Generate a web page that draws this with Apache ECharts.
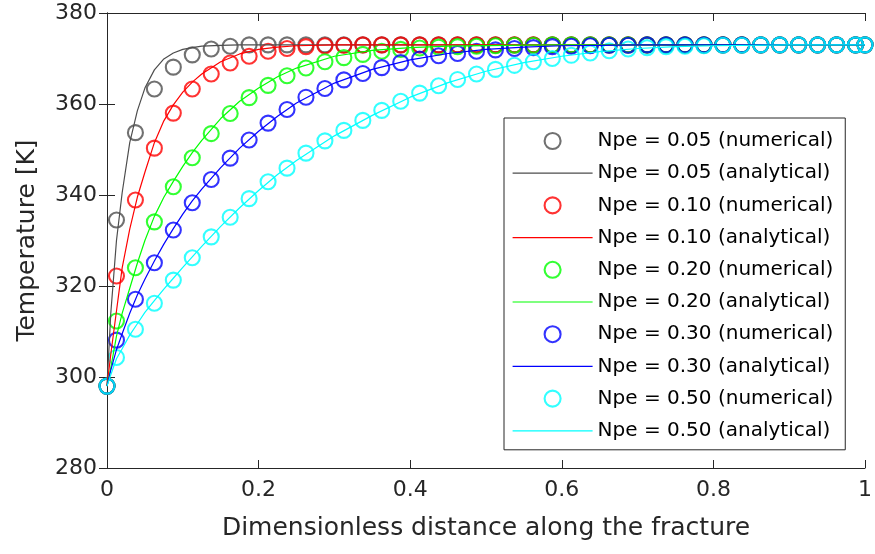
<!DOCTYPE html>
<html>
<head>
<meta charset="utf-8">
<script src="https://cdn.jsdelivr.net/npm/echarts@6/dist/echarts.min.js"></script>
<style>
  html, body { margin: 0; padding: 0; background: #fff; }
  #chart { width: 875px; height: 554px; }
</style>
</head>
<body>
<div id="chart"></div>
<script>
// Grid-block centres of the numerical solution (plus both ends)
const xNumerical = [0, 0.0125, 0.0375, 0.0625, 0.0875, 0.1125, 0.1375, 0.1625, 0.1875, 0.2125,
  0.2375, 0.2625, 0.2875, 0.3125, 0.3375, 0.3625, 0.3875, 0.4125, 0.4375, 0.4625,
  0.4875, 0.5125, 0.5375, 0.5625, 0.5875, 0.6125, 0.6375, 0.6625, 0.6875, 0.7125,
  0.7375, 0.7625, 0.7875, 0.8125, 0.8375, 0.8625, 0.8875, 0.9125, 0.9375, 0.9625,
  0.9875, 1];

// Numerical temperatures [K]
const numNpe005 = [298, 334.5, 353.7, 363.3, 368.1, 370.8, 372.1, 372.7, 373.0, 373,
  373, 373, 373, 373, 373, 373, 373, 373, 373, 373,
  373, 373, 373, 373, 373, 373, 373, 373, 373, 373,
  373, 373, 373, 373, 373, 373, 373, 373, 373, 373, 373, 373];
const numNpe010 = [298, 322.2, 338.9, 350.3, 358.0, 363.3, 366.6, 369.0, 370.5, 371.6,
  372.2, 372.6, 372.8, 372.9, 373, 373, 373, 373, 373, 373,
  373, 373, 373, 373, 373, 373, 373, 373, 373, 373,
  373, 373, 373, 373, 373, 373, 373, 373, 373, 373, 373, 373];
const numNpe020 = [298, 312.3, 324.0, 334.1, 341.8, 348.2, 353.5, 357.9, 361.4, 364.1,
  366.2, 367.9, 369.3, 370.2, 370.9, 371.6, 372.0, 372.3, 372.5, 372.6,
  372.7, 372.8, 372.9, 372.9, 373, 373, 373, 373, 373, 373,
  373, 373, 373, 373, 373, 373, 373, 373, 373, 373, 373, 373];
const numNpe030 = [298, 308.1, 317.1, 325.1, 332.3, 338.3, 343.4, 348.1, 352.1, 355.8,
  358.8, 361.5, 363.4, 365.3, 366.7, 368.0, 369.1, 369.9, 370.6, 371.1,
  371.6, 371.9, 372.2, 372.4, 372.6, 372.7, 372.8, 372.9, 372.9, 373,
  373, 373, 373, 373, 373, 373, 373, 373, 373, 373, 373, 373];
const numNpe050 = [298, 304.3, 310.5, 316.2, 321.3, 326.2, 330.8, 335.1, 339.2, 342.9,
  345.9, 349.2, 351.9, 354.2, 356.4, 358.6, 360.6, 362.4, 364.0, 365.4,
  366.6, 367.6, 368.5, 369.3, 370.0, 370.7, 371.2, 371.7, 372.1, 372.4,
  372.6, 372.7, 372.8, 372.9, 372.9, 373, 373, 373, 373, 373, 373, 373];

// Sample positions of the analytical profiles
const xAnalytical = [0, 0.005, 0.0125, 0.02, 0.03, 0.04, 0.05, 0.0625, 0.075, 0.0875,
  0.1, 0.1125, 0.125, 0.15, 0.175, 0.2, 0.225, 0.25, 0.3, 0.35,
  0.4, 0.45, 0.5, 0.55, 0.6, 0.65, 0.7, 0.75, 0.8, 0.9, 1];

// Analytical temperatures [K]
const anaNpe005 = [298, 314, 330, 340.5, 351.5, 358.5, 363.5, 367.5, 369.9, 371.2,
  372.0, 372.4, 372.7, 372.9, 373, 373, 373, 373, 373, 373,
  373, 373, 373, 373, 373, 373, 373, 373, 373, 373, 373];
const anaNpe010 = [298, 305, 314.5, 324, 332.5, 339.5, 345, 351.5, 356.3, 359.8,
  362.6, 364.8, 366.6, 369.3, 371.0, 372.0, 372.5, 372.8, 373, 373,
  373, 373, 373, 373, 373, 373, 373, 373, 373, 373, 373];
const anaNpe020 = [298, 302, 309, 314, 319.5, 325, 330, 335.3, 339.5, 343,
  346.3, 349.3, 352, 356.8, 360.6, 363.5, 366, 367.9, 370.5, 371.8,
  372.4, 372.7, 372.85, 372.95, 373, 373, 373, 373, 373, 373, 373];
const anaNpe030 = [298, 301.5, 306, 309.5, 314, 318, 321.5, 325.5, 329.2, 332.6,
  335.8, 338.7, 341.3, 346, 350.3, 354, 357.3, 360.2, 364.6, 367.6,
  369.7, 371.1, 372, 372.5, 372.8, 372.9, 373, 373, 373, 373, 373];
const anaNpe050 = [298, 300.5, 304, 306.2, 309.2, 311.7, 314.2, 316.8, 319.3, 321.7,
  324.1, 326.4, 328.7, 333.1, 337.2, 341, 344.5, 347.6, 353, 357.5,
  361.5, 364.7, 367.2, 369.1, 370.5, 371.5, 372.2, 372.6, 372.8, 373, 373];

const pecletLabels = ['0.05', '0.10', '0.20', '0.30', '0.50'];
const curveColors = ['#4d4d4d', '#ff0000', '#00ff00', '#0000ff', '#00ffff'];
const numericalSets = [numNpe005, numNpe010, numNpe020, numNpe030, numNpe050];
const analyticalSets = [anaNpe005, anaNpe010, anaNpe020, anaNpe030, anaNpe050];

const zip = (xs, ys) => xs.map((x, i) => [x, ys[i]]);

const FONT = 'DejaVu Sans';
const INK = '#262626';
const CLEAR = 'rgba(0,0,0,0)';

const series = [];
const legendData = [];
pecletLabels.forEach((npe, k) => {
  const c = curveColors[k];
  const numName = 'Npe = ' + npe + ' (numerical)';
  const anaName = 'Npe = ' + npe + ' (analytical)';
  const ring = { color: CLEAR, borderColor: c, borderWidth: 2.1 };
  series.push({
    name: numName,
    type: 'scatter',
    data: zip(xNumerical, numericalSets[k]),
    symbol: 'circle',
    symbolSize: 15,
    clip: false,
    itemStyle: ring
  });
  series.push({
    name: anaName,
    type: 'line',
    data: zip(xAnalytical, analyticalSets[k]),
    symbol: 'none',
    lineStyle: { color: c, width: 1.2 },
    itemStyle: { color: c }
  });
  legendData.push({ name: numName, icon: 'circle', itemStyle: ring });
  // plain line sample in the legend: hide the marker part of the icon
  legendData.push({
    name: anaName,
    itemStyle: { color: CLEAR, borderColor: CLEAR, borderWidth: 0 },
    lineStyle: { color: c, width: 1.2 }
  });
});

const tickStyle = { show: true, inside: true, length: 8, lineStyle: { color: INK, width: 1 } };
const lineStyle = { show: true, lineStyle: { color: INK, width: 1 } };

const chart = echarts.init(document.getElementById('chart'), null, { renderer: 'canvas' });
chart.setOption({
  animation: false,
  backgroundColor: '#fff',
  grid: { left: 107, right: 6, top: 13, bottom: 86, containLabel: false },
  xAxis: [
    {
      type: 'value', min: 0, max: 1, interval: 0.2, position: 'bottom',
      axisLine: lineStyle, axisTick: tickStyle, splitLine: { show: false },
      axisLabel: { color: INK, fontFamily: FONT, fontSize: 22, margin: 11 },
      name: 'Dimensionless distance along the fracture', nameLocation: 'middle', nameGap: 48,
      nameTextStyle: { color: INK, fontFamily: FONT, fontSize: 25 }
    },
    {
      type: 'value', min: 0, max: 1, interval: 0.2, position: 'top',
      axisLine: lineStyle, axisTick: tickStyle, splitLine: { show: false },
      axisLabel: { show: false }
    }
  ],
  yAxis: [
    {
      type: 'value', min: 280, max: 380, interval: 20, position: 'left',
      axisLine: lineStyle, axisTick: tickStyle, splitLine: { show: false },
      axisLabel: { color: INK, fontFamily: FONT, fontSize: 22, margin: 10 },
      name: 'Temperature [K]', nameLocation: 'middle', nameGap: 67,
      nameTextStyle: { color: INK, fontFamily: FONT, fontSize: 25 }
    },
    {
      type: 'value', min: 280, max: 380, interval: 20, position: 'right',
      axisLine: lineStyle, axisTick: tickStyle, splitLine: { show: false },
      axisLabel: { show: false }
    }
  ],
  legend: {
    orient: 'vertical',
    left: 504, top: 118,
    padding: [13, 12, 9, 8],
    itemWidth: 80, itemHeight: 16, itemGap: 12.2,
    backgroundColor: '#fff',
    borderColor: INK, borderWidth: 1,
    textStyle: { color: '#000', fontFamily: FONT, fontSize: 20, lineHeight: 20 },
    data: legendData
  },
  series: series
});
</script>
</body>
</html>
